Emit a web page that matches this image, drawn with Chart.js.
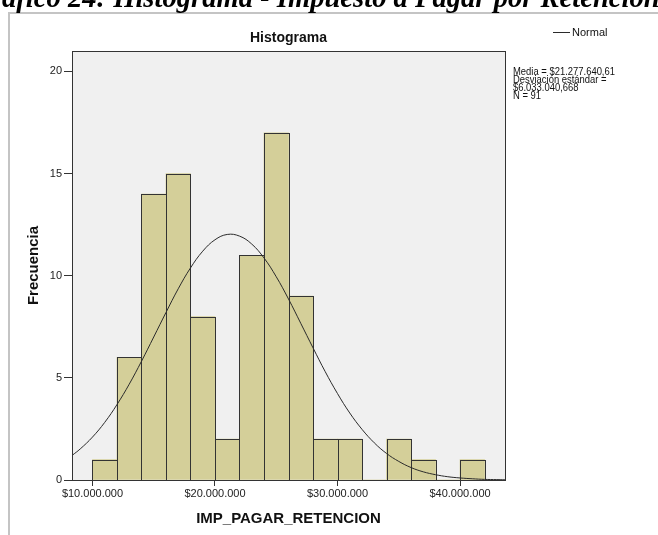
<!DOCTYPE html>
<html lang="es">
<head>
  <meta charset="UTF-8" />
  <title>Histograma - IMP_PAGAR_RETENCION</title>
  <script src="https://cdn.jsdelivr.net/npm/chart.js"></script>
  <style>
    html, body { margin: 0; padding: 0; background: #fff; }
    #wrap { position: relative; width: 658px; height: 535px; overflow: hidden; }
  </style>
</head>
<body>
  <div id="wrap">
    <canvas id="histChart" width="658" height="535"></canvas>
  </div>

  <script>
    // bins of 2.000.000 (centre of each bar) and their counts
    const binMids = [11000000, 13000000, 15000000, 17000000, 19000000, 21000000, 23000000, 25000000,
                     27000000, 29000000, 31000000, 33000000, 35000000, 37000000, 39000000, 41000000];
    const frecuencias = [1, 6, 14, 15, 8, 2, 11, 17, 9, 2, 2, 0, 2, 1, 0, 1];

    // normal curve
    const curvaX = [8330000, 9000000, 10000000, 11000000, 12000000, 13000000, 14000000, 15000000,
                    16000000, 17000000, 18000000, 19000000, 20000000, 21000000, 22000000, 23000000,
                    24000000, 25000000, 26000000, 27000000, 28000000, 29000000, 30000000, 31000000,
                    32000000, 33000000, 34000000, 35000000, 36000000, 37000000, 38000000, 39000000,
                    40000000, 41000000, 42000000, 43000000, 43670000];
    const curvaY = [1.20, 1.52, 2.10, 2.82, 3.69, 4.69, 5.81, 7.00,
                    8.20, 9.36, 10.38, 11.20, 11.76, 12.02, 11.94, 11.55,
                    10.87, 9.95, 8.86, 7.67, 6.47, 5.30, 4.23, 3.28,
                    2.48, 1.82, 1.30, 0.91, 0.61, 0.40, 0.26, 0.16,
                    0.10, 0.06, 0.03, 0.02, 0.01];

    const xTicks = [10000000, 20000000, 30000000, 40000000];
    const yTicks = [0, 5, 10, 15, 20];

    const statsLines = ['Media = $21.277.640,61', 'Desviación estándar =', '$6.033.040,668', 'N = 91'];

    const SANS = '"Liberation Sans", Arial, sans-serif';
    const INK = '#2b2b2b';

    const money = v => '$' + String(v).replace(/\B(?=(\d{3})+(?!\d))/g, '.');

    // plot background + frame, bar outlines, and the surrounding text
    const decor = {
      id: 'decor',
      beforeDatasetsDraw(chart) {
        const { ctx, chartArea: a } = chart;
        ctx.save();
        ctx.fillStyle = '#f0f0f0';
        ctx.fillRect(a.left, a.top, a.right - a.left, a.bottom - a.top);
        ctx.restore();
      },
      afterDatasetDraw(chart, args) {
        if (args.index !== 0) return;
        const { ctx } = chart;
        ctx.save();
        ctx.strokeStyle = '#333';
        ctx.lineWidth = 1;
        args.meta.data.forEach((bar, i) => {
          if (!frecuencias[i]) return;
          const l = Math.round(bar.x - bar.width / 2) + 0.5;
          const r = Math.round(bar.x + bar.width / 2) + 0.5;
          const t = Math.round(bar.y) + 0.5;
          const b = Math.round(bar.base) + 0.5;
          ctx.strokeRect(l, t, r - l, b - t);
        });
        ctx.restore();
      },
      afterDraw(chart) {
        const { ctx, chartArea: a } = chart;
        ctx.save();

        // plot frame
        ctx.strokeStyle = '#333';
        ctx.lineWidth = 1;
        ctx.strokeRect(Math.round(a.left) + 0.5, Math.round(a.top) + 0.5,
                       Math.round(a.right - a.left), Math.round(a.bottom - a.top));

        // outer grey frame
        ctx.strokeStyle = '#c4c4c4';
        ctx.lineWidth = 2;
        ctx.beginPath();
        ctx.moveTo(9, 535);
        ctx.lineTo(9, 13);
        ctx.lineTo(658, 13);
        ctx.stroke();

        // caption above the frame
        ctx.fillStyle = '#000';
        ctx.font = 'bold italic 28.6px "Liberation Serif", "Times New Roman", serif';
        ctx.textBaseline = 'alphabetic';
        ctx.textAlign = 'left';
        const lead = ctx.measureText('Gr').width;
        ctx.fillText('Gráfico 24: Histograma - Impuesto a Pagar por Retención', 2 - lead, 7);

        // chart title
        ctx.fillStyle = '#111';
        ctx.font = 'bold 14px ' + SANS;
        ctx.textAlign = 'center';
        ctx.textBaseline = 'middle';
        ctx.fillText('Histograma', (a.left + a.right) / 2, 38);

        // legend
        ctx.strokeStyle = INK;
        ctx.lineWidth = 1;
        ctx.beginPath();
        ctx.moveTo(553, 32.5);
        ctx.lineTo(570, 32.5);
        ctx.stroke();
        ctx.font = '11px ' + SANS;
        ctx.textAlign = 'left';
        ctx.fillText('Normal', 572, 33);

        // summary statistics, squeezed horizontally
        ctx.save();
        ctx.translate(513, 0);
        ctx.scale(0.82, 1);
        ctx.font = '11.5px ' + SANS;
        statsLines.forEach((s, i) => ctx.fillText(s, 0, 72 + i * 7.8));
        ctx.restore();

        // axis titles
        ctx.fillStyle = '#111';
        ctx.font = 'bold 15px ' + SANS;
        ctx.textAlign = 'center';
        ctx.fillText('IMP_PAGAR_RETENCION', (a.left + a.right) / 2, 519);
        ctx.translate(34, (a.top + a.bottom) / 2);
        ctx.rotate(-Math.PI / 2);
        ctx.fillText('Frecuencia', 0, 0);

        ctx.restore();
      }
    };

    new Chart(document.getElementById('histChart'), {
      data: {
        datasets: [
          {
            type: 'bar',
            label: 'Frecuencia',
            data: binMids.map((x, i) => ({ x, y: frecuencias[i] })),
            backgroundColor: '#d4cf99',
            borderWidth: 0,
            barPercentage: 1,
            categoryPercentage: 1,
            order: 2
          },
          {
            type: 'line',
            label: 'Normal',
            data: curvaX.map((x, i) => ({ x, y: curvaY[i] })),
            borderColor: INK,
            borderWidth: 1,
            pointRadius: 0,
            tension: 0.4,
            fill: false,
            order: 1
          }
        ]
      },
      options: {
        responsive: false,
        animation: false,
        devicePixelRatio: 1,
        layout: { padding: { top: 51, right: 153, left: 0, bottom: 0 } },
        plugins: {
          legend: { display: false },
          title: { display: false },
          tooltip: { enabled: false }
        },
        scales: {
          x: {
            type: 'linear',
            min: 8330000,
            max: 43670000,
            offset: false,
            afterFit: s => { s.height = 55; },
            afterBuildTicks: s => { s.ticks = xTicks.map(value => ({ value })); },
            grid: { drawOnChartArea: false, drawTicks: true, tickLength: 6, tickColor: '#333', offset: false },
            border: { display: false },
            ticks: {
              autoSkip: false,
              maxRotation: 0,
              padding: 1,
              color: '#222',
              font: { family: SANS, size: 11 },
              callback: v => money(v)
            }
          },
          y: {
            type: 'linear',
            min: 0,
            max: 21,
            afterFit: s => { s.width = 72; },
            afterBuildTicks: s => { s.ticks = yTicks.map(value => ({ value })); },
            grid: { drawOnChartArea: false, drawTicks: true, tickLength: 8, tickColor: '#333' },
            border: { display: false },
            ticks: {
              padding: 2,
              color: '#222',
              font: { family: SANS, size: 11 },
              callback: v => String(v)
            }
          }
        }
      },
      plugins: [decor]
    });
  </script>
</body>
</html>
